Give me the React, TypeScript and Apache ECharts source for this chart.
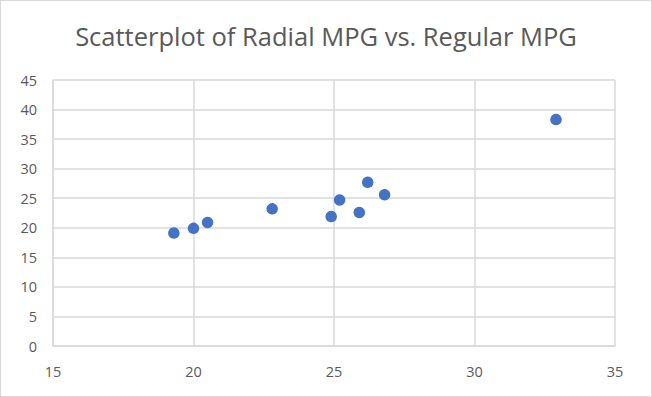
import React, { useEffect, useRef } from "react";
import * as echarts from "echarts";

const regularMpg = [19.3, 20.0, 20.5, 22.8, 24.9, 25.2, 25.9, 26.2, 26.8, 32.9];
const radialMpg = [19.1, 19.9, 20.9, 23.2, 21.9, 24.7, 22.6, 27.7, 25.6, 38.3];
const titleText = "Scatterplot of Radial MPG vs. Regular MPG";

export default function App() {
  const ref = useRef<HTMLDivElement>(null);
  useEffect(() => {
    document.body.style.margin = "0";
    const chart = echarts.init(ref.current!, null, { renderer: "svg" });
    const data = regularMpg.map((x, i) => [x, radialMpg[i]]);
    chart.setOption({
      animation: false,
      backgroundColor: "#ffffff",
      title: {
        text: titleText,
        left: "center",
        top: 17,
        textStyle: {
          fontFamily: "Open Sans",
          fontSize: 25.5,
          fontWeight: "normal",
          color: "#595959",
        },
      },
      grid: { left: 52, right: 36, top: 79, bottom: 50 },
      xAxis: {
        type: "value",
        min: 15,
        max: 35,
        interval: 5,
        axisLine: { show: true, lineStyle: { color: "#d9d9d9", width: 1.5 } },
        axisTick: { show: false },
        splitLine: { show: true, lineStyle: { color: "#d9d9d9", width: 1.5 } },
        axisLabel: { color: "#595959", fontSize: 14.5, fontFamily: "Open Sans", margin: 18 },
      },
      yAxis: {
        type: "value",
        min: 0,
        max: 45,
        interval: 5,
        axisLine: { show: true, lineStyle: { color: "#d9d9d9", width: 1.5 } },
        axisTick: { show: false },
        splitLine: { show: true, lineStyle: { color: "#d9d9d9", width: 1.5 } },
        axisLabel: { color: "#595959", fontSize: 14.5, fontFamily: "Open Sans", margin: 16 },
      },
      series: [
        {
          type: "scatter",
          data,
          symbol: "circle",
          symbolSize: 11.5,
          itemStyle: { color: "#4472C4", opacity: 1 },
        },
      ],
    });
    return () => chart.dispose();
  }, []);
  return (
    <div
      ref={ref}
      style={{
        position: "absolute",
        left: 0,
        top: 0,
        width: 652,
        height: 397,
        boxSizing: "border-box",
        border: "1.5px solid #d9d9d9",
      }}
    />
  );
}
